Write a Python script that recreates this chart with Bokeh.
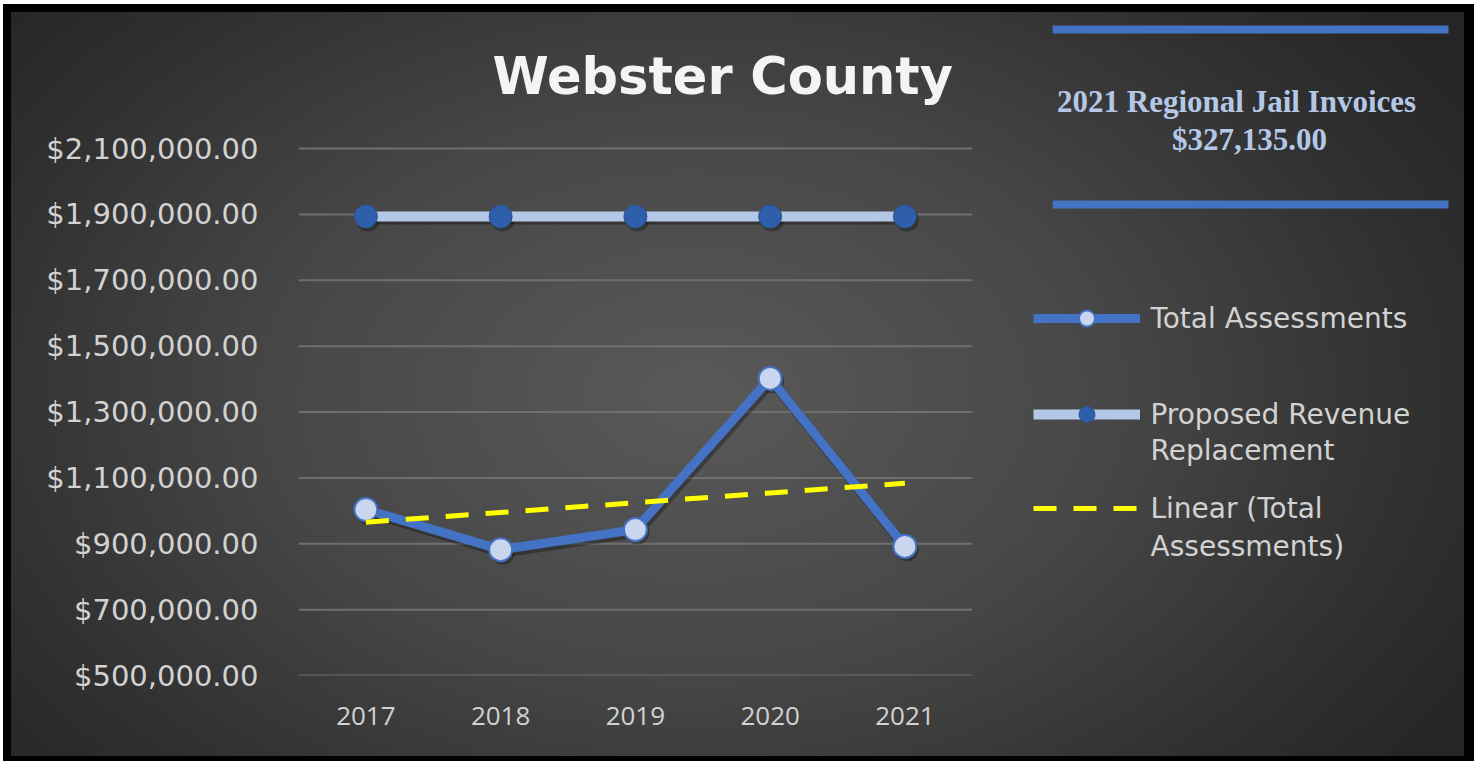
import numpy as np
from bokeh.plotting import figure
from bokeh.models import (Range1d, FixedTicker, NumeralTickFormatter, Label,
                          BoxAnnotation, Legend, LegendItem)
from bokeh.embed import file_html
from bokeh.resources import INLINE

# ---------------- data ----------------
years = [2017, 2018, 2019, 2020, 2021]
year_labels = ["2017", "2018", "2019", "2020", "2021"]
total_assessments = [1004000, 882000, 943000, 1402000, 892000]
proposed_revenue = [1893500, 1893500, 1893500, 1893500, 1893500]
y_ticks = [500000, 700000, 900000, 1100000, 1300000, 1500000, 1700000, 1900000, 2100000]
title_text = "Webster County"
box_lines = ["2021 Regional Jail Invoices", "$327,135.00"]
legend_names = ["Total Assessments", "Proposed Revenue", "Replacement",
                "Linear (Total", "Assessments)"]

# linear trend of Total Assessments
slope, intercept = np.polyfit(years, total_assessments, 1)
trend = [slope * y + intercept for y in years]

# ---------------- layout helpers (image px -> data) ----------------
W, H = 1474, 761
PLOT_L, PLOT_R = 297.6, 971.6          # x extent of the chart area (px)
PLOT_T, PLOT_B = 148.0, 675.0          # y extent of the chart area (px)
XA, XB = years[0] - 0.5, years[-1] + 0.5
YA, YB = y_ticks[0], y_ticks[-1]


def dx(ix):
    return XA + (ix - PLOT_L) / (PLOT_R - PLOT_L) * (XB - XA)


def dy(iy):
    return YB - (iy - PLOT_T) / (PLOT_B - PLOT_T) * (YB - YA)


# shadow offset (px -> data units)
SHX = 2.0 / (PLOT_R - PLOT_L) * (XB - XA)
SHY = 3.0 / (PLOT_B - PLOT_T) * (YB - YA)

# frame spans from chart-left/bottom to the right/top edges of the canvas
p = figure(width=W, height=H, output_backend="svg", toolbar_location=None,
           x_range=Range1d(XA, dx(W)), y_range=Range1d(YA, dy(0)),
           min_border_left=int(round(PLOT_L)), min_border_right=0,
           min_border_top=0, min_border_bottom=int(round(H - PLOT_B)))
p.border_fill_color = None
p.background_fill_color = None
p.outline_line_color = None
p.styles = {
    "background": "radial-gradient(ellipse 62% 80% at 47% 52%, #595959 0%, #474747 45%, #303030 80%, #252525 100%)",
    "box-shadow": ("inset 3px 4px 0 0 #ffffff, inset 11px 12px 0 0 #000000, "
                   "inset -10px -5px 0 0 #000000"),
}

# axes
p.xaxis.ticker = FixedTicker(ticks=years)
p.xaxis.major_label_overrides = {y: s for y, s in zip(years, year_labels)}
p.yaxis.ticker = FixedTicker(ticks=y_ticks)
p.yaxis.formatter = NumeralTickFormatter(format="$0,0.00")
for ax in (p.xaxis, p.yaxis):
    ax.axis_line_color = None
    ax.major_tick_line_color = None
    ax.minor_tick_line_color = None
    ax.major_tick_out = 0
    ax.major_tick_in = 0
    ax.major_label_text_color = "#d2d2d2"
p.yaxis.major_label_text_font = "DejaVu Sans"
p.yaxis.major_label_text_font_size = "29px"
p.yaxis.major_label_standoff = 40
p.xaxis.major_label_text_font = "Open Sans"
p.xaxis.major_label_text_font_size = "26px"
p.xaxis.major_label_standoff = 31

# horizontal gridlines only across the chart area
p.xgrid.visible = False
p.ygrid.visible = False
p.segment(x0=[XA] * len(y_ticks), x1=[XB] * len(y_ticks), y0=y_ticks,
          y1=y_ticks, line_color="#6f6f6f", line_width=2)

# soft drop shadows
p.line([x + SHX for x in years], [v - SHY for v in total_assessments],
       line_color="#000000", line_alpha=0.3, line_width=10, line_join="round")
p.scatter([x + SHX for x in years], [v - SHY for v in total_assessments],
          size=24, fill_color="#000000", fill_alpha=0.3, line_color=None)
p.line([x + SHX for x in years], [v - SHY for v in proposed_revenue],
       line_color="#000000", line_alpha=0.3, line_width=10)
p.scatter([x + SHX for x in years], [v - SHY for v in proposed_revenue],
          size=24, fill_color="#000000", fill_alpha=0.3, line_color=None)

# series
ta_line = p.line(years, total_assessments, line_color="#4472C4", line_width=9,
                 line_join="round")
ta_pts = p.scatter(years, total_assessments, size=23, fill_color="#c9d6ee",
                   line_color="#4472C4", line_width=2)
pr_line = p.line(years, proposed_revenue, line_color="#b4c7e7", line_width=10)
pr_pts = p.scatter(years, proposed_revenue, size=23, fill_color="#2f5eab",
                   line_color="#2a528f", line_width=1)
tr_line = p.line(years, trend, line_color="#ffff00", line_width=5,
                 line_dash="23 17")

# title
p.add_layout(Label(x=dx(722), y=dy(76), text=title_text, text_align="center",
                   text_baseline="alphabetic", text_font="DejaVu Sans",
                   text_font_style="bold", text_font_size="51px",
                   text_color="#f4f4f4"))

# top-right box
for top, bot in ((25, 33), (200, 208)):
    p.add_layout(BoxAnnotation(left=dx(1052), right=dx(1448), top=dy(top),
                               bottom=dy(bot), fill_color="#4472C4",
                               fill_alpha=1, line_color=None))
p.add_layout(Label(x=dx(1236), y=dy(101), text=box_lines[0], text_align="center",
                   text_baseline="alphabetic", text_font="Liberation Serif",
                   text_font_style="bold", text_font_size="31px",
                   text_color="#b4c7e7"))
p.add_layout(Label(x=dx(1249), y=dy(139), text=box_lines[1], text_align="center",
                   text_baseline="alphabetic", text_font="Liberation Serif",
                   text_font_style="bold", text_font_size="31px",
                   text_color="#b4c7e7"))

# legends
GH = 40


def add_legend(label, renderers, center_iy):
    leg = Legend(items=[LegendItem(label=label, renderers=renderers)],
                 location=(1033 - PLOT_L, PLOT_B - center_iy - GH / 2),
                 glyph_width=107, glyph_height=GH, label_height=GH,
                 label_standoff=10, padding=0, margin=0, spacing=0,
                 label_text_font="DejaVu Sans", label_text_font_size="28px",
                 label_text_color="#d2d2d2", background_fill_alpha=0,
                 border_line_alpha=0)
    p.add_layout(leg, "center")


add_legend(legend_names[0], [ta_line, ta_pts], 318)
add_legend(legend_names[1], [pr_line, pr_pts], 414)
add_legend(legend_names[3], [tr_line], 508)
for txt, base in ((legend_names[2], 450), (legend_names[4], 546)):
    p.add_layout(Label(x=dx(1150), y=dy(base), text=txt, text_align="left",
                       text_baseline="alphabetic", text_font="DejaVu Sans",
                       text_font_size="28px", text_color="#d2d2d2"))

open("out.html", "w").write(file_html(p, INLINE))
